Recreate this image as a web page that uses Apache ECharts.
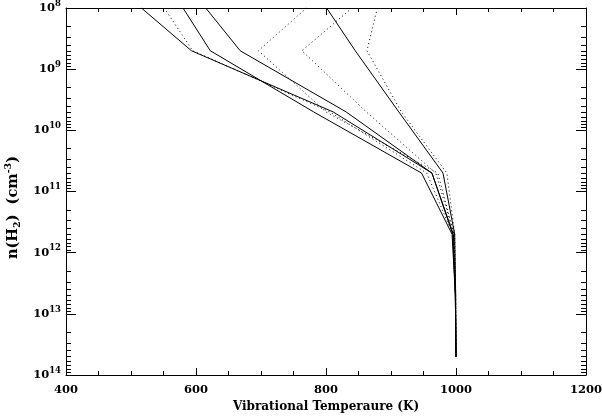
<!DOCTYPE html>
<html>
<head>
<meta charset="utf-8">
<script src="https://cdn.jsdelivr.net/npm/echarts@6/dist/echarts.min.js"></script>
<style>
html,body{margin:0;padding:0;background:#fff;}
#c{width:602px;height:419px;}
</style>
</head>
<body>
<div id="c"></div>
<script>
// densities n(H2) in cm^-3 (y values)
const densities = [1e8, 5e8, 5e9, 5e10, 5e11, 5e12, 5e13];
// vibrational temperatures (K) for each model, solid lines
const solid1 = [516, 593, 811, 963, 995, 999, 1000];
const solid2 = [580, 622, 781, 947, 994, 999, 1000];
const solid3 = [615, 668, 831, 963, 996, 999, 1000];
const solid4 = [801, 845, 912, 980, 998, 999.5, 1000];
// dotted lines
const dotted1 = [551, 595, 806, 955, 995, 999, 1000];
const dotted2 = [770, 696, 800, 972, 997, 999.5, 1000];
const dotted3 = [840, 763, 862, 969, 997, 999.5, 1000];
const dotted4 = [879, 863, 916, 986, 998, 999.5, 1000];

const xTicks = [400, 600, 800, 1000, 1200];
const yDecades = [8, 9, 10, 11, 12, 13, 14];

const solids = [solid1, solid2, solid3, solid4];
const dotteds = [dotted1, dotted2, dotted3, dotted4];

const FONT = 'DejaVu Serif';
const minorY = [];
for (let d = yDecades[0]; d < yDecades[yDecades.length - 1]; d++) {
  for (let k = 2; k <= 9; k++) minorY.push(d + Math.log10(k));
}

function mk(vals, dotted) {
  return {
    type: 'line',
    xAxisIndex: 0, yAxisIndex: 0,
    data: vals.map((t, i) => [t, Math.log10(densities[i])]),
    showSymbol: false,
    symbol: 'none',
    lineStyle: {color: '#000', width: 1, type: dotted ? [1, 3] : 'solid'},
    z: dotted ? 2 : 3
  };
}

const series = [];
solids.forEach(s => series.push(mk(s, false)));
dotteds.forEach(s => series.push(mk(s, true)));

const baseY = {
  type: 'value', min: yDecades[0], max: yDecades[yDecades.length - 1], interval: 1, inverse: true,
  splitLine: {show: false}
};
const labelStyle = {fontFamily: FONT, fontWeight: 'bold', color: '#000'};

const option = {
  animation: false,
  backgroundColor: '#fff',
  grid: {left: 66, right: 16, top: 8, bottom: 44, containLabel: false, outerBoundsMode: 'none'},
  xAxis: [
    {
      type: 'value', min: xTicks[0], max: xTicks[xTicks.length - 1], interval: 200, position: 'bottom',
      axisLine: {lineStyle: {color: '#000', width: 1}},
      axisTick: {inside: true, length: 7, lineStyle: {color: '#000'}},
      minorTick: {show: true, splitNumber: 4, length: 4, lineStyle: {color: '#000'}},
      splitLine: {show: false}, minorSplitLine: {show: false},
      axisLabel: Object.assign({fontSize: 11.5, margin: 9, formatter: v => String(v)}, labelStyle),
      name: 'Vibrational Temperaure (K)', nameLocation: 'middle', nameGap: 24,
      nameTextStyle: Object.assign({fontSize: 12}, labelStyle)
    },
    {
      type: 'value', min: xTicks[0], max: xTicks[xTicks.length - 1], interval: 200, position: 'top',
      axisLine: {lineStyle: {color: '#000', width: 1}},
      axisTick: {inside: true, length: 7, lineStyle: {color: '#000'}},
      minorTick: {show: true, splitNumber: 4, length: 4, lineStyle: {color: '#000'}},
      splitLine: {show: false}, axisLabel: {show: false}
    }
  ],
  yAxis: [
    Object.assign({}, baseY, {
      position: 'left',
      axisLine: {show: true, lineStyle: {color: '#000', width: 1}},
      axisTick: {show: true, inside: true, length: 10, lineStyle: {color: '#000'}},
      axisLabel: {
        margin: 5,
        formatter: v => '{b|10}{s|' + v + '}',
        rich: {
          b: Object.assign({fontSize: 11.5, verticalAlign: 'bottom', lineHeight: 12}, labelStyle),
          s: Object.assign({fontSize: 8.5, verticalAlign: 'bottom', padding: [0, 0, 6, 0], lineHeight: 10}, labelStyle)
        }
      },
      name: '{n|n(H}{sub|2}{n|)  (cm}{sup|-3}{n|)}', nameLocation: 'middle', nameGap: 30,
      nameTextStyle: {
        padding: [0, 32, 0, 0],
        rich: {
          n: Object.assign({fontSize: 14.5, verticalAlign: 'bottom', lineHeight: 15}, labelStyle),
          sub: Object.assign({fontSize: 9.5, verticalAlign: 'bottom', lineHeight: 10, padding: [0, 0, -2, 0]}, labelStyle),
          sup: Object.assign({fontSize: 9.5, verticalAlign: 'bottom', lineHeight: 10, padding: [0, 0, 7, 0]}, labelStyle)
        }
      }
    }),
    Object.assign({}, baseY, {
      position: 'left',
      axisLine: {show: false},
      axisTick: {show: true, inside: true, length: 5, customValues: minorY, lineStyle: {color: '#000'}},
      axisLabel: {show: false}
    }),
    Object.assign({}, baseY, {
      position: 'right',
      axisLine: {show: true, lineStyle: {color: '#000', width: 1}},
      axisTick: {show: true, inside: true, length: 10, lineStyle: {color: '#000'}},
      axisLabel: {show: false}
    }),
    Object.assign({}, baseY, {
      position: 'right',
      axisLine: {show: false},
      axisTick: {show: true, inside: true, length: 5, customValues: minorY, lineStyle: {color: '#000'}},
      axisLabel: {show: false}
    })
  ],
  series: series
};

const chart = echarts.init(document.getElementById('c'), null, {renderer: 'canvas'});
chart.setOption(option);
</script>
</body>
</html>
